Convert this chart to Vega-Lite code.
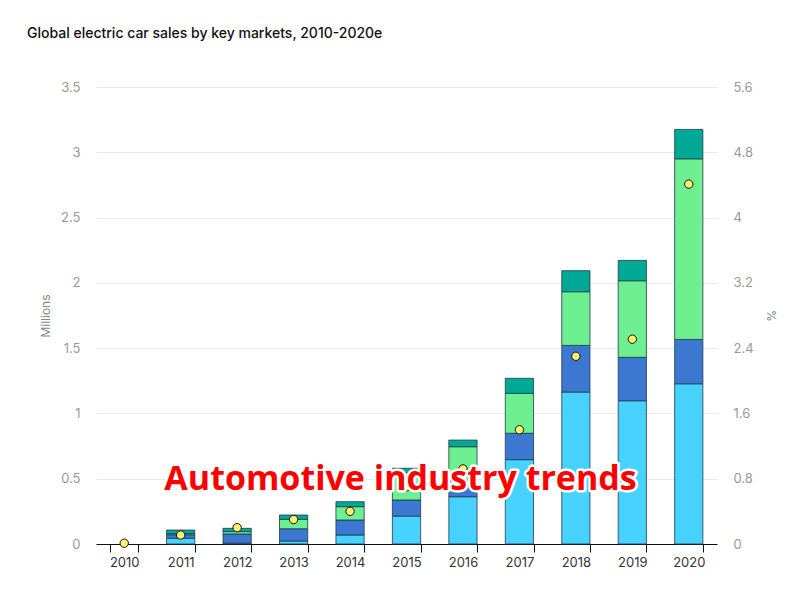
{
  "$schema": "https://vega.github.io/schema/vega-lite/v6.json",
  "width": 621,
  "height": 457,
  "autosize": "none",
  "padding": {"left": 96, "top": 87, "right": 83, "bottom": 47},
  "background": "white",
  "title": {
    "text": "Global electric car sales by key markets, 2010-2020e",
    "anchor": "start",
    "frame": "group",
    "dx": -69,
    "offset": 40,
    "fontSize": 14,
    "font": "Inter",
    "fontWeight": 500,
    "color": "#111111"
  },
  "config": {
    "view": {"stroke": null},
    "axis": {"labelFont": "Inter", "titleFont": "Inter"}
  },
  "datasets": {
    "sales": [
      {"year": "2011", "market": "China", "k": 1, "value": 0.044},
      {"year": "2011", "market": "United States", "k": 2, "value": 0.027},
      {"year": "2011", "market": "Europe", "k": 3, "value": 0.008},
      {"year": "2011", "market": "Other", "k": 4, "value": 0.028},
      {"year": "2012", "market": "China", "k": 1, "value": 0.006},
      {"year": "2012", "market": "United States", "k": 2, "value": 0.071},
      {"year": "2012", "market": "Europe", "k": 3, "value": 0.018},
      {"year": "2012", "market": "Other", "k": 4, "value": 0.025},
      {"year": "2013", "market": "China", "k": 1, "value": 0.023},
      {"year": "2013", "market": "United States", "k": 2, "value": 0.094},
      {"year": "2013", "market": "Europe", "k": 3, "value": 0.072},
      {"year": "2013", "market": "Other", "k": 4, "value": 0.033},
      {"year": "2014", "market": "China", "k": 1, "value": 0.069},
      {"year": "2014", "market": "United States", "k": 2, "value": 0.115},
      {"year": "2014", "market": "Europe", "k": 3, "value": 0.102},
      {"year": "2014", "market": "Other", "k": 4, "value": 0.038},
      {"year": "2015", "market": "China", "k": 1, "value": 0.214},
      {"year": "2015", "market": "United States", "k": 2, "value": 0.123},
      {"year": "2015", "market": "Europe", "k": 3, "value": 0.209},
      {"year": "2015", "market": "Other", "k": 4, "value": 0.034},
      {"year": "2016", "market": "China", "k": 1, "value": 0.362},
      {"year": "2016", "market": "United States", "k": 2, "value": 0.128},
      {"year": "2016", "market": "Europe", "k": 3, "value": 0.255},
      {"year": "2016", "market": "Other", "k": 4, "value": 0.051},
      {"year": "2017", "market": "China", "k": 1, "value": 0.646},
      {"year": "2017", "market": "United States", "k": 2, "value": 0.202},
      {"year": "2017", "market": "Europe", "k": 3, "value": 0.306},
      {"year": "2017", "market": "Other", "k": 4, "value": 0.115},
      {"year": "2018", "market": "China", "k": 1, "value": 1.164},
      {"year": "2018", "market": "United States", "k": 2, "value": 0.357},
      {"year": "2018", "market": "Europe", "k": 3, "value": 0.411},
      {"year": "2018", "market": "Other", "k": 4, "value": 0.161},
      {"year": "2019", "market": "China", "k": 1, "value": 1.097},
      {"year": "2019", "market": "United States", "k": 2, "value": 0.333},
      {"year": "2019", "market": "Europe", "k": 3, "value": 0.586},
      {"year": "2019", "market": "Other", "k": 4, "value": 0.156},
      {"year": "2020", "market": "China", "k": 1, "value": 1.227},
      {"year": "2020", "market": "United States", "k": 2, "value": 0.340},
      {"year": "2020", "market": "Europe", "k": 3, "value": 1.383},
      {"year": "2020", "market": "Other", "k": 4, "value": 0.225}
    ],
    "share": [
      {"year": "2010", "share": 0.01},
      {"year": "2011", "share": 0.11},
      {"year": "2012", "share": 0.20},
      {"year": "2013", "share": 0.30},
      {"year": "2014", "share": 0.40},
      {"year": "2015", "share": 0.70},
      {"year": "2016", "share": 0.92},
      {"year": "2017", "share": 1.40},
      {"year": "2018", "share": 2.30},
      {"year": "2019", "share": 2.51},
      {"year": "2020", "share": 4.41}
    ],
    "overlay": [
      {"year": "2015", "v": 0.49, "label": "Automotive industry trends"}
    ]
  },
  "encoding": {
    "x": {
      "field": "year",
      "type": "ordinal",
      "scale": {"domain": ["2010", "2011", "2012", "2013", "2014", "2015", "2016", "2017", "2018", "2019", "2020"], "paddingInner": 0.5, "paddingOuter": 0.25},
      "axis": {
        "title": null,
        "labelAngle": 0,
        "domainColor": "#111111",
        "domainWidth": 1,
        "tickColor": "#111111",
        "tickSize": 8,
        "tickBand": "extent",
        "labelPadding": 4,
        "labelFontSize": 13,
        "labelColor": "#333333"
      }
    }
  },
  "layer": [
    {
      "data": {"name": "sales"},
      "mark": {"type": "bar", "stroke": "#1e3a4c", "strokeWidth": 0.8},
      "encoding": {
        "y": {
          "field": "value",
          "type": "quantitative",
          "stack": "zero",
          "scale": {"domain": [0, 3.5], "nice": false},
          "axis": {
            "title": "Millions",
            "titleColor": "#888888",
            "titleFontWeight": "normal",
            "titleFontSize": 12,
            "titlePadding": 8,
            "values": [0, 0.5, 1, 1.5, 2, 2.5, 3, 3.5],
            "format": "~g",
            "labelColor": "#999999",
            "labelFontSize": 13,
            "labelPadding": 16,
            "ticks": false,
            "domain": false,
            "gridColor": "#e8e8e8"
          }
        },
        "color": {
          "field": "market",
          "type": "nominal",
          "scale": {
            "domain": ["China", "United States", "Europe", "Other"],
            "range": ["#48d2ff", "#3c78d2", "#6ef091", "#00a896"]
          },
          "legend": null
        },
        "order": {"field": "k", "type": "quantitative"}
      }
    },
    {
      "data": {"name": "share"},
      "mark": {"type": "point", "filled": true, "fill": "#fff06e", "stroke": "#111111", "strokeWidth": 1, "size": 70, "opacity": 1},
      "encoding": {
        "y": {
          "field": "share",
          "type": "quantitative",
          "scale": {"domain": [0, 5.6], "nice": false},
          "axis": {
            "orient": "right",
            "title": "%",
            "titleColor": "#888888",
            "titleFontWeight": "normal",
            "titleFontSize": 12,
            "titlePadding": 10,
            "values": [0, 0.8, 1.6, 2.4, 3.2, 4, 4.8, 5.6],
            "format": "~g",
            "labelColor": "#999999",
            "labelFontSize": 13,
            "labelPadding": 16,
            "ticks": false,
            "domain": false,
            "grid": false
          }
        }
      }
    },
    {
      "data": {"name": "overlay"},
      "mark": {"type": "text", "font": "Open Sans", "fontSize": 34, "fontWeight": "bold", "stroke": "white", "strokeWidth": 5, "strokeJoin": "round", "fill": "white", "align": "center", "baseline": "middle", "dx": -6},
      "encoding": {
        "y": {"field": "v", "type": "quantitative", "scale": {"domain": [0, 3.5], "nice": false}, "axis": null},
        "text": {"field": "label"}
      }
    },
    {
      "data": {"name": "overlay"},
      "mark": {"type": "text", "font": "Open Sans", "fontSize": 34, "fontWeight": "bold", "fill": "#ff0000", "align": "center", "baseline": "middle", "dx": -6},
      "encoding": {
        "y": {"field": "v", "type": "quantitative", "scale": {"domain": [0, 3.5], "nice": false}, "axis": null},
        "text": {"field": "label"}
      }
    }
  ],
  "resolve": {"scale": {"y": "independent"}}
}
